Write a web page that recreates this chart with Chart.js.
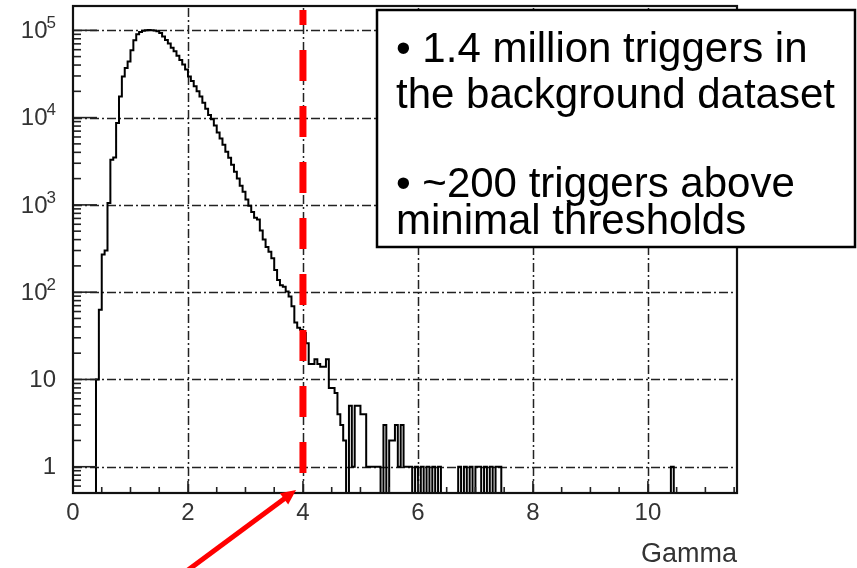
<!DOCTYPE html>
<html>
<head>
<meta charset="utf-8">
<script src="https://cdn.jsdelivr.net/npm/chart.js@4/dist/chart.umd.min.js"></script>
<style>
  html, body { margin: 0; padding: 0; background: #fff; }
  canvas { display: block; }
</style>
</head>
<body>
<canvas id="chart" width="857" height="568"></canvas>
<script>
// histogram: 0.05-wide bins, first bin starts at 0.40
const binWidth = 0.05;
const firstEdge = 0.40;
const counts = [
  10, 63, 270, 300, 1050, 3300, 3500, 8700, 17500, 29500,
  37000, 44000, 59000, 77000, 90000, 96000, 99000, 100000, 101000, 100500,
  99500, 97700, 93300, 85100, 77600, 70800, 63100, 57500, 51300, 45700,
  40700, 35500, 29500, 26300, 22900, 20000, 17400, 14800, 12600, 10700,
  9550, 8130, 6760, 5750, 4900, 4070, 3470, 2880, 2400, 2000,
  1660, 1410, 1150, 980, 830, 710, 680, 510, 400, 330,
  290, 245, 180, 138, 120, 115, 102, 89, 69, 45,
  39, 37, 34, 26, 15, 15, 17, 15, 14, 14,
  17, 8, 8, 7, 4, 3, 2, 0, 5, 1,
  5, 5, 4, 4, 1, 1, 1, 1, 1, 0,
  3, 0, 2, 2, 3, 1, 3, 1, 1, 1,
  0, 1, 0, 1, 0, 1, 0, 1, 0, 1,
  0, 0, 0, 0, 0, 0, 1, 0, 1, 0,
  1, 0, 1, 1, 0, 1, 0, 1, 0, 1,
  1, 0,
];
// lone entries far out in the tail
const tailEdges = [10.40];
const tailCounts = [1];

const xMin = 0;
const xMax = 11.55;
const yMin = 0.5;
const yMax = 1.9e5;
const xMajors = [0, 2, 4, 6, 8, 10];
const yMajors = [1, 10, 100, 1000, 10000, 100000];
const yExponents = ['', '', '2', '3', '4', '5'];
const cutGamma = 4;
const cutFloor = 0.85;
const noteLines = ['\u2022 1.4 million triggers in', 'the background dataset', '\u2022 ~200 triggers above', 'minimal thresholds'];

const FONT = '"Liberation Sans", Arial, Helvetica, sans-serif';

const floorOf = (c) => (c > 0 ? c : yMin);
const points = [{ x: xMin, y: yMin }];
counts.forEach((c, i) => points.push({ x: firstEdge + i * binWidth, y: floorOf(c) }));
points.push({ x: firstEdge + counts.length * binWidth, y: yMin });
tailEdges.forEach((edge, i) => {
  points.push({ x: edge, y: floorOf(tailCounts[i]) });
  points.push({ x: edge + binWidth, y: yMin });
});
points.push({ x: xMax, y: yMin });

const line = (ctx, x1, y1, x2, y2) => {
  ctx.beginPath();
  ctx.moveTo(x1, y1);
  ctx.lineTo(x2, y2);
  ctx.stroke();
};

const rootStyle = {
  id: 'rootStyle',
  beforeDatasetsDraw(chart) {
    const { ctx, chartArea: a, scales: { x, y } } = chart;
    ctx.save();
    ctx.strokeStyle = '#222';
    ctx.lineWidth = 1.5;
    ctx.setLineDash([9, 3, 2, 3]);
    yMajors.forEach((v) => {
      const py = Math.round(y.getPixelForValue(v)) + 0.5;
      line(ctx, a.left, py, a.right, py);
    });
    xMajors.filter((v) => v > xMin).forEach((v) => {
      const px = Math.round(x.getPixelForValue(v)) + 0.5;
      line(ctx, px, a.bottom, px, a.top);
    });
    ctx.restore();
  },
  afterDatasetsDraw(chart) {
    const { ctx, chartArea: a, scales: { x, y } } = chart;
    ctx.save();
    // threshold line
    const cx = x.getPixelForValue(cutGamma);
    ctx.strokeStyle = '#ff0000';
    ctx.lineWidth = 7;
    ctx.setLineDash([31, 25]);
    line(ctx, cx, y.getPixelForValue(cutFloor), cx, a.top + 4);
    ctx.setLineDash([]);

    // ticks
    ctx.strokeStyle = '#222';
    ctx.lineWidth = 1.6;
    for (let d = -1; d <= 5; d++) {
      for (let m = 1; m <= 9; m++) {
        const v = m * Math.pow(10, d);
        if (v < yMin || v > yMax) continue;
        const py = y.getPixelForValue(v);
        line(ctx, a.left, py, a.left + (m === 1 ? 24 : 8), py);
      }
    }
    for (let v = 0.5; v < xMax; v += 0.5) {
      const px = x.getPixelForValue(v);
      line(ctx, px, a.bottom, px, a.bottom - (v % 2 === 0 ? 12 : 6));
    }

    // frame
    ctx.strokeStyle = '#111';
    ctx.lineWidth = 2.2;
    ctx.strokeRect(a.left, a.top, a.right - a.left, a.bottom - a.top);

    // y labels: 10 with raised exponent
    ctx.fillStyle = '#333';
    ctx.textBaseline = 'middle';
    ctx.textAlign = 'right';
    yMajors.forEach((v, i) => {
      const py = y.getPixelForValue(v) + 1;
      const exp = yExponents[i];
      const right = a.left - 17;
      if (!exp) {
        ctx.font = '24px ' + FONT;
        ctx.fillText(String(v), right, py);
        return;
      }
      ctx.font = '17px ' + FONT;
      const ew = ctx.measureText(exp).width;
      ctx.fillText(exp, right, py - 8);
      ctx.font = '24px ' + FONT;
      ctx.fillText('10', right - ew + 1, py);
    });
    ctx.restore();
  },
  afterDraw(chart) {
    const { ctx, chartArea: a, scales: { x } } = chart;
    ctx.save();
    // note box
    ctx.fillStyle = '#fff';
    ctx.fillRect(377, 10, 478, 237);
    ctx.strokeStyle = '#000';
    ctx.lineWidth = 2.5;
    ctx.strokeRect(377, 10, 478, 237);
    ctx.fillStyle = '#000';
    ctx.font = '42px ' + FONT;
    ctx.textBaseline = 'alphabetic';
    [62, 108, 197, 234].forEach((by, i) => ctx.fillText(noteLines[i], 396, by));

    // arrow pointing at the cut
    const tipX = x.getPixelForValue(3.88);
    const tipY = a.bottom - 3;
    const tailX = tipX - 108;
    const tailY = tipY + 80;
    const ang = Math.atan2(tipY - tailY, tipX - tailX);
    const head = 15;
    ctx.strokeStyle = '#ff0000';
    ctx.fillStyle = '#ff0000';
    ctx.lineWidth = 5;
    line(ctx, tailX, tailY, tipX - Math.cos(ang) * (head - 2), tipY - Math.sin(ang) * (head - 2));
    ctx.beginPath();
    ctx.moveTo(tipX, tipY);
    ctx.lineTo(tipX - head * Math.cos(ang) + 7 * Math.sin(ang), tipY - head * Math.sin(ang) - 7 * Math.cos(ang));
    ctx.lineTo(tipX - head * Math.cos(ang) - 7 * Math.sin(ang), tipY - head * Math.sin(ang) + 7 * Math.cos(ang));
    ctx.closePath();
    ctx.fill();
    ctx.restore();
  },
};

new Chart(document.getElementById('chart'), {
  type: 'line',
  data: {
    datasets: [
      {
        data: points,
        stepped: 'before',
        borderColor: '#000',
        borderWidth: 2,
        pointRadius: 0,
        fill: false,
      },
    ],
  },
  options: {
    responsive: false,
    animation: false,
    devicePixelRatio: 1,
    layout: { padding: { top: 6, right: 120, left: 0, bottom: 0 } },
    plugins: { legend: { display: false }, tooltip: { enabled: false } },
    scales: {
      x: {
        type: 'linear',
        min: xMin,
        max: xMax,
        grid: { display: false, drawTicks: false },
        border: { display: false },
        afterBuildTicks: (scale) => { scale.ticks = xMajors.map((v) => ({ value: v })); },
        afterFit: (scale) => { scale.height = 75; },
        ticks: {
          padding: 6,
          maxRotation: 0,
          color: '#333',
          font: { family: FONT, size: 24 },
          callback: (v) => String(v),
        },
        title: {
          display: true,
          text: 'Gamma',
          align: 'end',
          color: '#333',
          font: { family: FONT, size: 27 },
          padding: { top: 0, bottom: -3 },
        },
      },
      y: {
        type: 'logarithmic',
        min: yMin,
        max: yMax,
        grid: { display: false, drawTicks: false },
        border: { display: false },
        afterBuildTicks: (scale) => { scale.ticks = yMajors.map((v) => ({ value: v })); },
        afterFit: (scale) => { scale.width = 73; },
        ticks: { display: false },
      },
    },
  },
  plugins: [rootStyle],
});
</script>
</body>
</html>
